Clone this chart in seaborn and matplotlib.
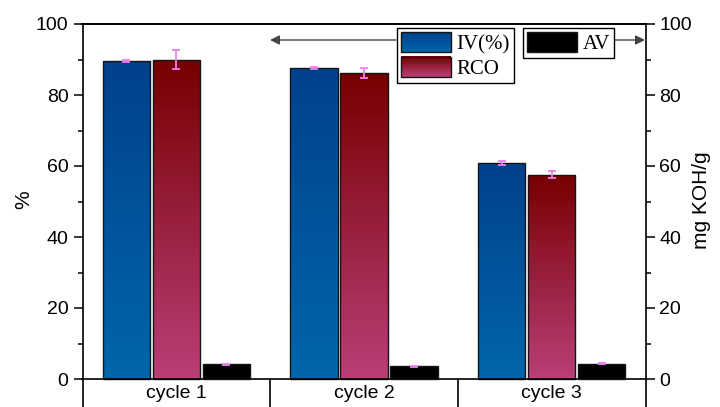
import numpy as np
import pandas as pd
import matplotlib
matplotlib.use("Agg")
import matplotlib.pyplot as plt
from matplotlib.colors import LinearSegmentedColormap, to_hex, to_rgb
from matplotlib.legend_handler import HandlerBase
from matplotlib.patches import Rectangle
import seaborn as sns

# ---- data -------------------------------------------------------------
cycles = ["cycle 1", "cycle 2", "cycle 3"]
iv_pct = [89.5, 87.6, 60.9]
iv_err = [0.3, 0.3, 0.55]
rco = [90.0, 86.3, 57.6]
rco_err = [2.6, 1.4, 1.0]
av = [4.1, 3.65, 4.3]
av_err = [0.15, 0.15, 0.15]

series_names = ["IV(%)", "RCO", "AV"]

# ---- style ------------------------------------------------------------
sns.set_theme(style="ticks")
plt.rcParams["font.family"] = ["Liberation Sans", "DejaVu Sans"]
plt.rcParams["axes.linewidth"] = 1.2
plt.rcParams["text.color"] = "black"
plt.rcParams["axes.labelcolor"] = "black"

base_colors = {"IV(%)": "#0057a0", "RCO": "#9a2040", "AV": "#000000"}
gradients = {  # (bottom, top)
    "IV(%)": ("#0066aa", "#00418c"),
    "RCO": ("#bb3e78", "#760000"),
    "AV": ("#000000", "#000000"),
}
err_color = "#f07ff0"

df_left = pd.DataFrame({
    "cycle": cycles * 2,
    "series": ["IV(%)"] * 3 + ["RCO"] * 3,
    "value": iv_pct + rco,
})
df_right = pd.DataFrame({"cycle": cycles, "series": ["AV"] * 3, "value": av})
errors = {"IV(%)": iv_err, "RCO": rco_err, "AV": av_err}
values = {"IV(%)": iv_pct, "RCO": rco, "AV": av}

W, H = 720, 407
fig = plt.figure(figsize=(W / 100, H / 100), dpi=100)
left_px, right_px, top_px, zero_px = 82.5, 645.5, 24, 379
ax_w = right_px - left_px
ax_h = H - top_px
ax = fig.add_axes([left_px / W, 0, ax_w / W, ax_h / H])
ax2 = ax.twinx()

ymin = -(H - zero_px) / ((zero_px - top_px) / 100.0)

bar_kw = dict(x="cycle", y="value", hue="series", order=cycles,
              hue_order=series_names, palette=base_colors, width=0.8, gap=0.05,
              dodge=True, saturation=1, errorbar=None, legend=False,
              edgecolor="#151515", linewidth=1.0)
sns.barplot(data=df_left, ax=ax, **bar_kw)
sns.barplot(data=df_right, ax=ax2, **bar_kw)

hex_to_series = {to_hex(c): s for s, c in base_colors.items()}


def shade_and_annotate(axis):
    for p in list(axis.patches):
        key = to_hex(p.get_facecolor()[:3])
        s = hex_to_series.get(key)
        if s is None:
            continue
        x0, w, h = p.get_x(), p.get_width(), p.get_height()
        if not np.isfinite(h) or h == 0:
            continue
        cmap = LinearSegmentedColormap.from_list(s, list(gradients[s]))
        im = axis.imshow(np.linspace(0, 1, 256).reshape(-1, 1), cmap=cmap,
                         origin="lower", extent=(x0, x0 + w, 0, h),
                         aspect="auto", zorder=p.get_zorder(), interpolation="bilinear")
        im.set_clip_path(p)
        p.set_facecolor("none")
        p.set_zorder(p.get_zorder() + 0.1)
        i = int(round(x0 + w / 2))
        axis.errorbar(x0 + w / 2, values[s][i], yerr=errors[s][i], fmt="none",
                      ecolor=err_color, elinewidth=1.3, capsize=3, capthick=1.3,
                      zorder=p.get_zorder() + 1)


shade_and_annotate(ax)
shade_and_annotate(ax2)

# ---- axes -------------------------------------------------------------
for a in (ax, ax2):
    a.set_xlim(-0.5, 2.5)
    a.set_ylim(ymin, 100)
    a.set_yticks([0, 20, 40, 60, 80, 100])
    a.set_yticks([10, 30, 50, 70, 90], minor=True)
    a.tick_params(axis="y", which="major", length=6.5, width=1.1, labelsize=14,
                  direction="out", colors="black")
    a.tick_params(axis="y", which="minor", length=3.5, width=1.1, direction="out",
                  colors="black")
    a.spines["top"].set_visible(True)
    a.spines["top"].set_color("black")

ax.spines["left"].set_color("black")
ax2.spines["right"].set_color("black")
ax2.spines["bottom"].set_visible(False)
ax.spines["right"].set_visible(False)
ax2.spines["left"].set_visible(False)

# category axis sits on the zero line
ax.spines["bottom"].set_position(("data", 0))
ax.spines["bottom"].set_color("black")
ax.set_xticks(range(len(cycles)))
ax.set_xticklabels(cycles)
ax.set_xticks([0.5, 1.5], minor=True)
ax.tick_params(axis="x", which="major", length=0, pad=4, labelsize=14, colors="black")
ax.tick_params(axis="x", which="minor", length=22, width=1.2, direction="out",
               color="black")
ax2.tick_params(axis="x", which="both", length=0, labelbottom=False)

ax.set_xlabel("")
ax2.set_xlabel("")
ax.set_ylabel("%", fontsize=15, color="black")
ax2.set_ylabel("mg KOH/g", fontsize=15, rotation=90, color="black")
ax.yaxis.set_label_coords((33 - left_px) / ax_w, (H - 200) / ax_h)
ax2.yaxis.set_label_coords((692 - left_px) / ax_w, (H - 200) / ax_h)


# ---- legends ----------------------------------------------------------
class GradientHandler(HandlerBase):
    def __init__(self, colors):
        super().__init__()
        self.colors = colors

    def create_artists(self, legend, orig_handle, xdescent, ydescent, width,
                       height, fontsize, trans):
        bottom, top = np.array(to_rgb(self.colors[0])), np.array(to_rgb(self.colors[1]))
        n = 24
        arts = []
        for k in range(n):
            c = bottom + (top - bottom) * (k + 0.5) / n
            arts.append(Rectangle((-xdescent, -ydescent + height * k / n), width,
                                  height / n + 0.3, facecolor=c, edgecolor="none",
                                  transform=trans))
        arts.append(Rectangle((-xdescent, -ydescent), width, height, facecolor="none",
                              edgecolor="#151515", lw=1.0, transform=trans))
        return arts


serif = ["Liberation Serif", "DejaVu Serif"]
h_iv, h_rco, h_av = Rectangle((0, 0), 1, 1), Rectangle((0, 0), 1, 1), Rectangle((0, 0), 1, 1)
leg_kw = dict(loc="upper left", bbox_transform=fig.transFigure, frameon=True,
              fancybox=False, edgecolor="black", framealpha=1, borderaxespad=0,
              borderpad=0.2, handlelength=2.4, handleheight=1.1,
              handletextpad=0.25, labelspacing=0.12,
              prop={"family": serif, "size": 15})
leg1 = ax2.legend([h_iv, h_rco], ["IV(%)", "RCO"],
                  handler_map={h_iv: GradientHandler(gradients["IV(%)"]),
                               h_rco: GradientHandler(gradients["RCO"])},
                  bbox_to_anchor=(397 / W, 1 - 28 / H), **leg_kw)
leg1.get_frame().set_linewidth(1.0)
ax2.add_artist(leg1)
leg2 = ax2.legend([h_av], ["AV"], handler_map={h_av: GradientHandler(gradients["AV"])},
                  bbox_to_anchor=(523 / W, 1 - 28 / H), **leg_kw)
leg2.get_frame().set_linewidth(1.0)
for leg in (leg1, leg2):
    for t in leg.get_texts():
        t.set_color("black")

# arrows pointing each series to its axis
arrow_y = 1 - 40 / H
arrow_kw = dict(arrowstyle="-|>", color="#444444", lw=1.0, mutation_scale=14,
                shrinkA=0, shrinkB=0)
ax2.annotate("", xy=(270 / W, arrow_y), xytext=(396 / W, arrow_y),
             xycoords="figure fraction", textcoords="figure fraction",
             arrowprops=arrow_kw, annotation_clip=False)
ax2.annotate("", xy=(645 / W, arrow_y), xytext=(614 / W, arrow_y),
             xycoords="figure fraction", textcoords="figure fraction",
             arrowprops=arrow_kw, annotation_clip=False)

fig.savefig("out.png", dpi=100)
